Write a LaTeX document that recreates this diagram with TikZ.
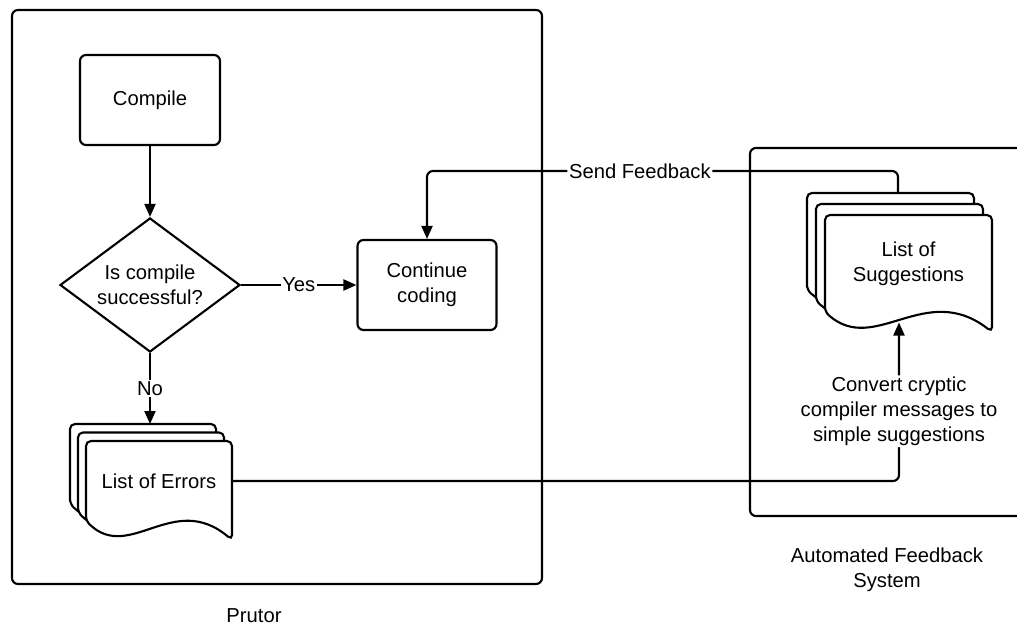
\documentclass[tikz,border=0pt]{standalone}
\usepackage{fontspec}
\setmainfont{Liberation Sans}
\usetikzlibrary{shapes.geometric,arrows.meta}

% one page of a document symbol: left, top, width, height, dip of the wave
\newcommand{\docpage}[5]{%
  \filldraw[fill=white, rounded corners=1mm] ({#1},{#2-#4}) -- ({#1},{#2}) -- ({#1+#3},{#2})
    -- ({#1+#3},{#2-#4-#5})
    .. controls ({#1+0.6*#3},{#2-#4+1.6*#5}) and ({#1+0.3*#3},{#2-#4-2.2*#5}) .. ({#1},{#2-#4}) -- cycle;}

\begin{document}
\begin{tikzpicture}[line width=1.2pt, font=\fontsize{11.5}{14}\selectfont,
    box/.style={draw, rounded corners=1.2mm, minimum width=2.8cm, minimum height=1.8cm, align=center},
    lbl/.style={fill=white, inner sep=1pt, align=center},
    arr/.style={-{Triangle[length=2.6mm, width=2.2mm]}}]
    \useasboundingbox (0,0) rectangle (20.34,-12.5);

    % Rahmen
    \node[draw, rounded corners=1.2mm, minimum width=10.6cm, minimum height=11.48cm] (prutor) at (5.54,-5.94) {};
    \node (prutorname) at (5.08,-12.32) {Prutor};
    \draw[rounded corners=1.2mm] (21,-2.96) -- (15,-2.96) -- (15,-10.32) -- (21,-10.32);
    \node[align=center] (afsname) at (17.74,-11.4) {Automated Feedback\\System};

    % Knoten
    \node[box] (compile) at (3,-2) {Compile};
    \node[draw, diamond, aspect=1.34, inner sep=0pt, minimum width=3.6cm, minimum height=2.68cm, align=center] (check) at (3,-5.7) {Is compile\\successful?};
    \node[box, minimum width=2.78cm] (cont) at (8.54,-5.7) {Continue\\coding};

    % Dokumente
    \docpage{1.40}{-8.48}{2.92}{1.6}{0.38}
    \docpage{1.56}{-8.65}{2.92}{1.6}{0.38}
    \docpage{1.72}{-8.82}{2.92}{1.6}{0.38}
    \node[minimum width=2.92cm, minimum height=1.6cm] (errors) at (3.18,-9.62) {List of Errors};
    \coordinate (errtop) at (3,-8.48);

    \docpage{16.14}{-3.86}{3.34}{1.94}{0.4}
    \docpage{16.32}{-4.08}{3.34}{1.94}{0.4}
    \docpage{16.50}{-4.30}{3.34}{1.94}{0.4}
    \node[minimum width=3.34cm, minimum height=1.94cm, align=center] (sugg) at (18.17,-5.27) {List of\\Suggestions};
    \coordinate (suggtop) at (17.96,-3.86);
    \coordinate (suggin) at (17.98,-6.45);

    % Pfeile
    \draw[arr] (compile) -- (check);
    \draw[arr] (check) -- node[lbl] {Yes} (cont);
    \draw[arr] (check) -- node[lbl] {No} (errtop);
    \draw[arr, rounded corners=1.2mm] (errors.east) -| node[lbl, pos=0.72] {Convert cryptic\\compiler messages to\\simple suggestions} (suggin);
    \draw[arr, rounded corners=1.2mm] (suggtop) -- ++(0,0.44) -| node[lbl, pos=0.274] {Send Feedback} (cont.north);
\end{tikzpicture}
\end{document}
